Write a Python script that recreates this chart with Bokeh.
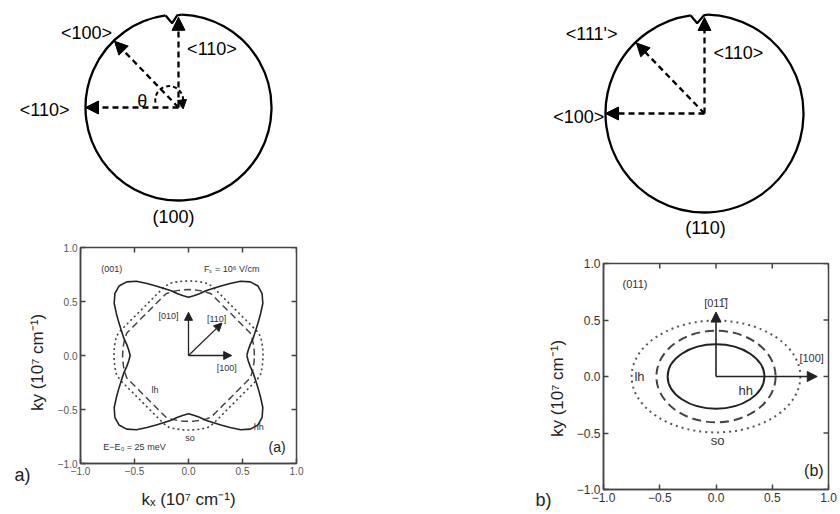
import numpy as np
from bokeh.plotting import figure
from bokeh.layouts import row, column
from bokeh.models import Range1d, Arrow, NormalHead, Label, FixedTicker
from bokeh.embed import file_html
from bokeh.resources import INLINE

FONT = "Liberation Sans"

# ---------------- data ----------------
# orientation diagrams (directions of the arrows, degrees from +x)
circle_a_dirs_deg = [90, 134, 180]
circle_a_dir_labels = ["<110>", "<100>", "<110>"]
circle_a_name = "(100)"
circle_b_dirs_deg = [90, 134, 180]
circle_b_dir_labels = ["<110>", "<111'>", "<100>"]
circle_b_name = "(110)"

# panel (a): constant-energy contours, radius vs angle over one quadrant (4-fold symmetric)
quad_angles_deg = [0, 5, 10, 15, 20, 25, 30, 35, 40, 45, 50, 55, 60, 65, 70, 75, 80, 85, 90]
hh_a_r = [0.54, 0.555, 0.58, 0.62, 0.66, 0.71, 0.77, 0.84, 0.89, 0.91, 0.89, 0.84, 0.77, 0.71, 0.66, 0.62, 0.58, 0.555, 0.54]
lh_a_r = [0.61, 0.61, 0.61, 0.61, 0.608, 0.587, 0.571, 0.560, 0.554, 0.552, 0.554, 0.560, 0.571, 0.587, 0.608, 0.61, 0.61, 0.61, 0.61]
so_a_r = [0.69, 0.69, 0.69, 0.69, 0.671, 0.647, 0.630, 0.617, 0.610, 0.608, 0.610, 0.617, 0.630, 0.647, 0.671, 0.69, 0.69, 0.69, 0.69]
a_dir_labels = ["[100]", "[010]", "[110]"]
a_dir_kx = [0.40, 0.0, 0.31]
a_dir_ky = [0.0, 0.40, 0.30]

# panel (b): elliptical contours
b_bands = ["hh", "lh", "so"]
b_semi_kx = [0.43, 0.53, 0.75]
b_semi_ky = [0.285, 0.405, 0.495]
b_dir_labels = ["[100]", "[011\u0305]"]
b_dir_kx = [0.90, 0.0]
b_dir_ky = [0.0, 0.57]

tick_values = [-1.0, -0.5, 0.0, 0.5, 1.0]
tick_labels = ["\u22121.0", "\u22120.5", "0.0", "0.5", "1.0"]

KX_LABEL = "k\u2093 (10\u2077 cm\u207b\u00b9)"
KY_LABEL = "ky (10\u2077 cm\u207b\u00b9)"


# ---------------- helpers ----------------
def full_contour(angles, radii):
    ang, rr = [], []
    for q in range(4):
        for a, r in zip(angles[:-1], radii[:-1]):
            ang.append(a + 90 * q)
            rr.append(r)
    ang.append(360)
    rr.append(radii[0])
    t = np.radians(ang)
    rr = np.array(rr)
    return rr * np.cos(t), rr * np.sin(t)


def lbl(p, x, y, text, size, color="black", align="center", angle=0.0):
    p.add_layout(Label(x=x, y=y, text=text, text_align=align, text_baseline="middle",
                       text_font=FONT, text_font_size=size, text_color=color, angle=angle))


def arrow(p, x0, y0, x1, y1, size, width, dash="solid", color="black", alpha=1.0):
    p.add_layout(Arrow(x_start=x0, y_start=y0, x_end=x1, y_end=y1,
                       line_width=width, line_dash=dash, line_color=color, line_alpha=alpha,
                       end=NormalHead(size=size, fill_color=color, line_color=color, line_width=1)))


def blank_fig(width, height, xr, yr):
    p = figure(width=width, height=height, x_range=xr, y_range=yr,
               x_axis_type=None, y_axis_type=None, toolbar_location=None,
               output_backend="svg", min_border=0, outline_line_color=None)
    p.frame_align = False
    return p


def orientation_circle(width, height, r_px, cx_px, cy_px, dirs, dir_labels, label_pos,
                       name, name_pos, notch_pts, theta=False):
    p = blank_fig(width, height,
                  Range1d(-cx_px / r_px, (width - cx_px) / r_px),
                  Range1d(-(height - cy_px) / r_px, cy_px / r_px))
    p.arc(x=[0], y=[0], radius=[1], start_angle=[98], end_angle=[88],
          start_angle_units="deg", end_angle_units="deg", direction="anticlock",
          line_color="black", line_width=2.3)
    p.line(x=notch_pts[0], y=notch_pts[1], line_color="black", line_width=2.3)
    lengths = [0.97, 0.99, 1.0]
    for d, L in zip(dirs, lengths):
        t = np.radians(d)
        arrow(p, 0, 0, L * np.cos(t), L * np.sin(t), 13, 2.3, dash="6 4")
    for t, (x, y) in zip(dir_labels, label_pos):
        lbl(p, x, y, t, "18px")
    lbl(p, name_pos[0], name_pos[1], name, "18px")
    if theta:
        c = (-0.10, 0.08)
        r = 0.15
        p.arc(x=[c[0]], y=[c[1]], radius=[r], start_angle=[-30], end_angle=[200],
              start_angle_units="deg", end_angle_units="deg", direction="anticlock",
              line_color="black", line_width=2, line_dash="4 3")
        e = np.radians(-30)
        ex, ey = c[0] + r * np.cos(e), c[1] + r * np.sin(e)
        arrow(p, ex + 0.01, ey + 0.06, ex + 0.02, ey - 0.02, 9, 1, alpha=0.0)
        lbl(p, -0.39, 0.075, "\u03b8", "18px")
    return p


def style_box(p, tick_font, tick_color, standoff, label_font, label_standoff_x):
    overrides = dict(zip(tick_values, tick_labels))
    for ax in [p.xaxis[0], p.yaxis[0]]:
        ax.ticker = FixedTicker(ticks=tick_values)
        ax.major_label_overrides = overrides
        ax.major_label_text_font = FONT
        ax.major_label_text_font_size = tick_font
        ax.major_label_text_color = tick_color
        ax.major_label_standoff = standoff
        ax.axis_label_text_font = FONT
        ax.axis_label_text_font_size = label_font
        ax.axis_label_text_font_style = "normal"
        ax.axis_label_text_color = "#222"
        ax.axis_line_color = "#444"
        ax.axis_line_width = 1.5
        ax.major_tick_line_color = "#444"
        ax.major_tick_line_width = 1.5
        ax.major_tick_in = 5
        ax.major_tick_out = 0
        ax.minor_tick_line_color = None
    p.xaxis[0].axis_label_standoff = label_standoff_x
    # inward ticks on the top and right edges of the box
    n = len(tick_values)
    p.scatter(x=tick_values, y=[p.y_range.end] * n, marker="dash", size=10, angle=np.pi / 2,
              line_color="#444", line_width=1.5)
    p.scatter(x=[p.x_range.end] * n, y=tick_values, marker="dash", size=10,
              line_color="#444", line_width=1.5)
    p.grid.visible = False
    p.outline_line_color = "#444"
    p.outline_line_width = 1.5
    p.frame_align = False


# ---------------- orientation circles ----------------
cA = orientation_circle(410, 240, 93, 178, 107, circle_a_dirs_deg, circle_a_dir_labels,
                        [(0.36, 0.634), (-0.99, 0.80), (-1.44, -0.03)],
                        circle_a_name, (-0.054, -1.18),
                        ([np.cos(np.radians(98)), -0.068, -0.014, np.cos(np.radians(88))],
                         [np.sin(np.radians(98)), 0.906, 0.99, np.sin(np.radians(88))]),
                        theta=True)
cB = orientation_circle(430, 248, 99, 294, 113, circle_b_dirs_deg, circle_b_dir_labels,
                        [(0.343, 0.616), (-1.14, 0.80), (-1.27, -0.04)],
                        circle_b_name, (0.01, -1.16),
                        ([np.cos(np.radians(98)), -0.074, -0.007, np.cos(np.radians(88))],
                         [np.sin(np.radians(98)), 0.912, 0.99, np.sin(np.radians(88))]))

# ---------------- panel (a) ----------------
pa = figure(width=358, height=274, x_range=Range1d(-1, 1), y_range=Range1d(-1, 1),
            output_backend="svg", toolbar_location=None,
            min_border_left=28, min_border_right=114, min_border_top=7, min_border_bottom=51)
pa.xaxis.axis_label = KX_LABEL
style_box(pa, "10px", "#555", 3, "17px", 12)

for radii, dash, lw, col in [(so_a_r, "2 3", 1.6, "#444"), (lh_a_r, "7 4", 1.5, "#444"),
                             (hh_a_r, "solid", 1.6, "#222")]:
    x, y = full_contour(quad_angles_deg, radii)
    pa.line(x, y, line_dash=dash, line_width=lw, line_color=col)

for kx, ky in zip(a_dir_kx, a_dir_ky):
    arrow(pa, 0, 0, kx, ky, 8, 1.3, color="#222")

small = "9px"
lbl(pa, -0.71, 0.80, "(001)", small, "#333")
lbl(pa, 0.40, 0.80, "F\u209b = 10\u2076 V/cm", small, "#333")
lbl(pa, -0.185, 0.37, a_dir_labels[1], small, "#333")
lbl(pa, 0.26, 0.34, a_dir_labels[2], small, "#333")
lbl(pa, 0.355, -0.12, a_dir_labels[0], small, "#333")
lbl(pa, -0.31, -0.32, "lh", small, "#333")
lbl(pa, 0.65, -0.66, "hh", small, "#333")
lbl(pa, 0.015, -0.76, "so", small, "#333")
lbl(pa, -0.50, -0.85, "E\u2212E\u2080 = 25 meV", small, "#333")
lbl(pa, 0.82, -0.85, "(a)", "14px", "#222")

# left strip of panel (a): panel tag and rotated ky label
labA = blank_fig(52, 274, Range1d(0, 52), Range1d(0, 274))
lbl(labA, 22, 40, "a)", "18px", "#222")
lbl(labA, 37, 152, KY_LABEL, "17px", "#222", angle=np.pi / 2)

# ---------------- panel (b) ----------------
pb = figure(width=267, height=266, x_range=Range1d(-1, 1), y_range=Range1d(-1, 1),
            output_backend="svg", toolbar_location=None,
            min_border_left=29, min_border_right=12, min_border_top=15, min_border_bottom=25)
style_box(pb, "12px", "#333", 3, "17px", 4)

styles_b = {"hh": ("solid", 2.0, "#222"), "lh": ("9 5", 2.0, "#444"), "so": ("2 4", 2.0, "#555")}
for band, ax_, ay_ in zip(b_bands, b_semi_kx, b_semi_ky):
    dash, lw, col = styles_b[band]
    pb.ellipse(x=[0], y=[0], width=[2 * ax_], height=[2 * ay_], fill_color=None,
               line_dash=dash, line_width=lw, line_color=col)

for kx, ky in zip(b_dir_kx, b_dir_ky):
    arrow(pb, 0, 0, kx, ky, 10, 1.6, color="#222")

lbl(pb, -0.72, 0.82, "(011)", "11px", "#333")
lbl(pb, 0.0, 0.65, b_dir_labels[1], "11px", "#333")
lbl(pb, 0.85, 0.16, b_dir_labels[0], "11px", "#333")
lbl(pb, -0.68, 0.0, "lh", "13px", "#333")
lbl(pb, 0.265, -0.12, "hh", "13px", "#333")
lbl(pb, 0.015, -0.565, "so", "13px", "#333")
lbl(pb, 0.87, -0.83, "(b)", "16px", "#222")

# left strip of panel (b): panel tag and rotated ky label
labB = blank_fig(163, 266, Range1d(0, 163), Range1d(0, 266))
lbl(labB, 133, 15, "b)", "18px", "#222")
lbl(labB, 147, 126, KY_LABEL, "17px", "#222", angle=np.pi / 2)

layout = row(column(cA, row(labA, pa)), column(cB, row(labB, pb)))
open("out.html", "w").write(file_html(layout, INLINE))
